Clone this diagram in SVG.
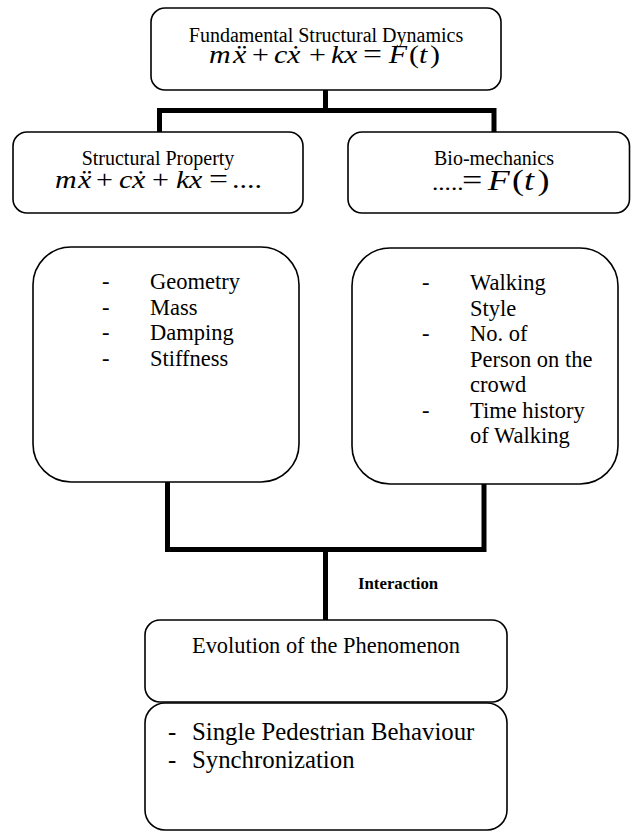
<svg xmlns="http://www.w3.org/2000/svg" width="631" height="832" viewBox="0 0 631 832">
<style>
.box{fill:#fff;stroke:#000;stroke-width:1.6}
.con{fill:none;stroke:#000;stroke-width:5;stroke-linejoin:miter;stroke-linecap:butt}
text{font-family:"Liberation Serif","Times New Roman","DejaVu Serif",serif;fill:#000}
.t20{font-size:20px}
.li{font-size:22.5px}
.eq{font-size:25px;font-style:italic}
.op{font-style:normal}
.eqop{font-style:normal;font-size:28px}
.up{font-style:normal}
</style>
<rect width="631" height="832" fill="#fff"/>
<g id="connectors">
<path class="con" d="M325.5 90 V110.5"/>
<path class="con" d="M159.5 132 V110.5 H494 V132"/>
<path class="con" d="M167.5 482 V549.5 H484 V484"/>
<path class="con" d="M325.5 549.5 V620"/>
<text x="358" y="589" style="font-size:16.8px;font-weight:bold">Interaction</text>
</g>
<g id="fundamental">
<rect class="box" x="151" y="8" width="350" height="82" rx="14"/>
<text class="t20" x="326" y="41.5" text-anchor="middle">Fundamental Structural Dynamics</text>
<text class="eq" y="63.5" transform="matrix(1.2 0 0 1 0 0)"><tspan x="174.2">m</tspan><tspan x="194.2">ẍ</tspan> <tspan class="op" x="210">+</tspan> <tspan x="228.3">c</tspan><tspan x="239.2">ẋ</tspan> <tspan class="op" x="257.5">+</tspan> <tspan x="275.8">k</tspan><tspan x="286.7">x</tspan> <tspan class="eqop" x="302.5">=</tspan> <tspan x="324">F</tspan><tspan class="up" x="340.8">(</tspan><tspan x="349.2">t</tspan><tspan class="up" x="358.3">)</tspan></text>
</g>
<g id="structural">
<rect class="box" x="13" y="132" width="290" height="81" rx="14"/>
<text class="t20" x="158" y="165" text-anchor="middle">Structural Property</text>
<text class="eq" y="188" transform="matrix(1.2 0 0 1 0 0)"><tspan x="45.8">m</tspan><tspan x="65">ẍ</tspan> <tspan class="op" x="80">+</tspan> <tspan x="99.2">c</tspan><tspan x="110">ẋ</tspan> <tspan class="op" x="126.7">+</tspan> <tspan x="146.7">k</tspan><tspan x="157.5">x</tspan> <tspan class="eqop" x="174.2">=</tspan> <tspan class="up" x="193.3">....</tspan></text>
</g>
<g id="biomechanics">
<rect class="box" x="348" y="132" width="281.5" height="81" rx="14"/>
<text class="t20" x="494" y="165" text-anchor="middle">Bio-mechanics</text>
<text class="eq" y="190" style="font-size:30px" transform="matrix(1.2 0 0 1 0 0)"><tspan class="up" x="360" style="font-size:21px">.....</tspan> <tspan class="up" x="385" style="font-size:30px">=</tspan> <tspan x="406.5">F</tspan><tspan class="up" x="426.7">(</tspan><tspan x="436.7">t</tspan><tspan class="up" x="448">)</tspan></text>
</g>
<g id="structural-list">
<rect class="box" x="33" y="247" width="266" height="235" rx="38"/>
<text class="li"><tspan x="102" y="289">-</tspan><tspan x="150" y="289">Geometry</tspan><tspan x="102" y="314.5">-</tspan><tspan x="150" y="314.5">Mass</tspan><tspan x="102" y="340">-</tspan><tspan x="150" y="340">Damping</tspan><tspan x="102" y="365.5">-</tspan><tspan x="150" y="365.5">Stiffness</tspan></text>
</g>
<g id="bio-list">
<rect class="box" x="352" y="248" width="266" height="236" rx="38"/>
<text class="li"><tspan x="422" y="290">-</tspan><tspan x="470" y="290">Walking</tspan><tspan x="470" y="315.5">Style</tspan><tspan x="422" y="341">-</tspan><tspan x="470" y="341">No. of</tspan><tspan x="470" y="366.5">Person on the</tspan><tspan x="470" y="392">crowd</tspan><tspan x="422" y="417.5">-</tspan><tspan x="470" y="417.5">Time history</tspan><tspan x="470" y="443">of Walking</tspan></text>
</g>
<g id="evolution">
<rect class="box" x="145" y="620" width="362" height="82" rx="15"/>
<text x="326" y="653" text-anchor="middle" style="font-size:22.4px">Evolution of the Phenomenon</text>
</g>
<g id="phenomena">
<rect class="box" x="145" y="703" width="362" height="127" rx="20"/>
<text style="font-size:24.8px"><tspan x="168" y="740">-</tspan><tspan x="192" y="740">Single Pedestrian Behaviour</tspan><tspan x="168" y="768">-</tspan><tspan x="192" y="768">Synchronization</tspan></text>
</g>
</svg>
